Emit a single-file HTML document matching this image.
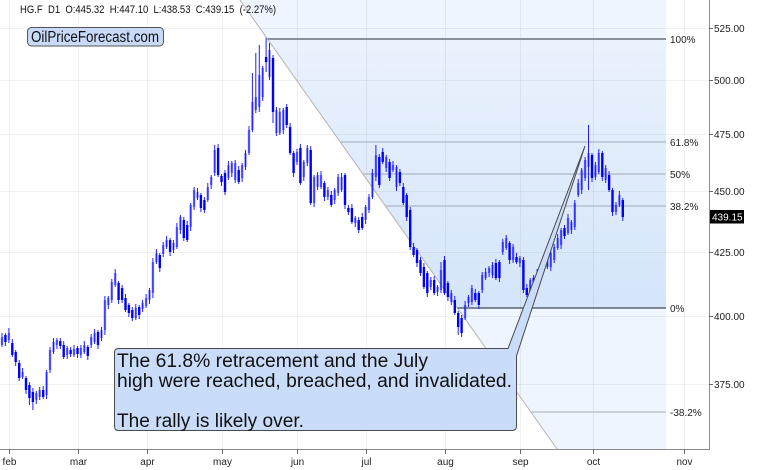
<!DOCTYPE html>
<html><head><meta charset="utf-8"><style>
html,body{margin:0;padding:0;background:#fff;}
svg{display:block;font-family:"Liberation Sans",Arial,sans-serif;}
</style></head><body>
<svg width="768" height="470" viewBox="0 0 768 470" xmlns="http://www.w3.org/2000/svg">
<defs>
<linearGradient id="gz" x1="0" y1="39" x2="0" y2="308" gradientUnits="userSpaceOnUse">
<stop offset="0" stop-color="#eaf2fd"/><stop offset="1" stop-color="#d5e5fa"/>
</linearGradient>
</defs>
<rect width="768" height="470" fill="#fff"/>
<!-- fib shaded zones -->
<polygon points="240,0 666,0 666,39 267.5,39" fill="#eef5fe"/>
<polygon points="267.5,39 666,39 666,308 457.4,308" fill="url(#gz)"/>
<polygon points="457.4,308 666,308 666,449 557,449" fill="#eff5fe"/>
<!-- grid -->
<g stroke="rgba(0,0,0,0.055)" stroke-width="1">
<path d="M0 28.5H709M0 80.5H709M0 134.5H709M0 191.5H709M0 252.5H709M0 316.5H709M0 384.5H709"/>
<path d="M9.5 0V449M78.5 0V449M147.5 0V449M222.5 0V449M297.5 0V449M366.5 0V449M445.5 0V449M520.5 0V449M593.5 0V449M684.5 0V449"/>
</g>
<!-- diagonal -->
<line x1="240" y1="0" x2="557" y2="449" stroke="#b4b4b4" stroke-width="1"/>
<!-- fib lines -->
<line x1="267.5" y1="39" x2="666" y2="39" stroke="#8a9098" stroke-width="2"/>
<line x1="340.3" y1="142" x2="666" y2="142" stroke="#b4bfcc" stroke-width="1.5"/>
<line x1="362.8" y1="174" x2="666" y2="174" stroke="#b4bfcc" stroke-width="1.5"/>
<line x1="385.4" y1="206" x2="666" y2="206" stroke="#b4bfcc" stroke-width="1.5"/>
<line x1="457.4" y1="308" x2="666" y2="308" stroke="#5c6470" stroke-width="1.5"/>
<line x1="530.9" y1="412" x2="666" y2="412" stroke="#bcc4cc" stroke-width="1.5"/>
<g font-size="10" fill="#222">
<text x="670" y="43">100%</text>
<text x="670" y="146">61.8%</text>
<text x="670" y="178">50%</text>
<text x="670" y="210">38.2%</text>
<text x="670" y="312">0%</text>
<text x="670" y="416">-38.2%</text>
</g>
<!-- candles -->
<path fill="none" stroke="#2020ff" stroke-width="1" d="M2 333V347M5.4 333V346M8.9 328V343M12.3 339V357M15.7 350V366M19.2 360V381M22.6 368V379M26 376V394M29.4 382V405M32.9 388V410M36.3 391V404M39.7 387V400M43.2 386V399M46.6 370V399M50 347V373M53.5 338V354M56.9 338V349M60.3 338V349M63.7 341V359M67.2 346V359M70.6 347V357M74 345V357M77.5 346V358M80.9 345V358M84.3 341V354M87.8 345V360M91.2 334V348M94.6 329V344M98 330V349M101.5 327V341M104.9 296V335M108.3 296V309M111.8 279V303M115.2 269V287M118.6 281V304M122.1 285V303M125.5 294V312M128.9 303V317M132.3 307V321M135.8 304V320M139.2 305V319M142.6 300V312M146.1 294V308M149.5 288V304M152.9 258V298M156.4 249V264M159.8 253V272M163.2 242V257M166.6 236V249M170.1 238V256M173.5 240V253M176.9 223V249M180.4 215V234M183.8 217V241M187.2 221V242M190.7 203V231M194.1 187V210M197.5 188V200M200.9 193V212M204.4 197V213M207.8 183V202M211.2 175V189M214.7 145V176M218.1 144V177M221.5 174V186M225 170V195M228.4 161V180M231.8 161V177M235.2 160V183M238.7 166V184M242.1 163V182M245.5 150V170M249 126V155M252.4 73V132M255.8 53V113M259.3 45V112M262.7 66V101M266.1 38V72M269.5 43V80M273 55V123M276.4 107V136M279.8 108V135M283.3 108V134M286.7 104V128M290.1 123V155M293.6 151V177M297 149V165M300.4 144V185M303.8 160V181M307.3 145V166M310.7 146V205M314.1 175V207M317.6 172V190M321 171V189M324.4 181V201M327.9 187V200M331.3 191V207M334.7 188V204M338.1 174V196M341.6 173V192M345 173V209M348.4 205V215M351.9 204V224M355.3 216V227M358.7 217V233M362.2 213V230M365.6 205V224M369 194V213M372.4 169V199M375.9 145V181M379.3 154V188M382.7 148V164M386.2 155V172M389.6 159V181M393 161V172M396.5 165V191M399.9 169V186M403.3 183V205M406.7 193V221M410.2 207V250M413.6 243V257M417 248V267M420.5 257V276M423.9 263V289M427.3 271V297M430.8 277V290M434.2 276V295M437.6 285V296M441 262V293M444.5 256V295M447.9 281V301M451.3 290V305M454.8 296V315M458.2 311V335M461.6 315V337M465.1 301V320M468.5 295V307M471.9 285V305M475.3 289V302M478.8 291V309M482.2 272V293M485.6 268V280M489.1 266V277M492.5 262V278M495.9 259V280M499.4 260V282M502.8 239V255M506.2 235V250M509.6 241V264M513.1 244V263M516.5 253V264M519.9 256V267M523.4 257V293M526.8 284V297M530.2 278V297M533.7 275V296M537.1 269V290M540.5 265V282M543.9 257V270M547.4 251V269M550.8 251V271M554.2 244V263M557.7 234V250M561.1 228V249M564.5 225V239M568 214V235M571.4 220V234M574.8 200V230M578.2 179V197M581.7 168V194M585.1 157V181M588.5 125V190M592 153V182M595.4 162V180M598.8 149V174M602.3 151V181M605.7 165V183M609.1 171V192M612.5 188V216M616 202V215M619.4 191V207M622.8 198V221"/>
<path fill="none" stroke="rgba(20,20,255,0.52)" stroke-width="2.4" d="M2 337V345M8.9 333V340M22.6 372V377M36.3 393V400M39.7 390V397M46.6 372V395M50 350V370M53.5 342V352M56.9 340V345M67.2 348V355M74 349V355M80.9 348V355M84.3 345V352M91.2 337V345M94.6 333V342M101.5 330V338M104.9 300V330M108.3 298V305M111.8 282V300M115.2 273V285M135.8 308V318M142.6 303V309M146.1 298V306M149.5 290V300M152.9 262V293M156.4 253V262M163.2 245V254M166.6 240V247M173.5 243V250M176.9 227V247M180.4 217V230M190.7 205V227M194.1 190V207M197.5 192V198M207.8 187V200M211.2 177V185M214.7 150V173M228.4 165V178M231.8 163V173M235.2 163V180M242.1 165V178M245.5 153V167M249 130V153M252.4 102V130M255.8 97V110M259.3 75V107M262.7 68V97M269.5 50V77M276.4 110V133M279.8 112V133M283.3 110V130M297 152V162M303.8 162V177M307.3 148V163M314.1 177V203M317.6 175V187M321 175V187M327.9 190V197M334.7 190V200M338.1 177V193M341.6 177V190M355.3 218V223M365.6 207V220M369 197V210M372.4 173V197M375.9 155V177M386.2 157V168M393 165V170M396.5 167V187M430.8 280V287M437.6 287V292M441 270V290M451.3 293V302M465.1 305V318M468.5 297V303M471.9 288V302M482.2 275V290M485.6 272V278M489.1 268V273M492.5 265V275M502.8 242V252M506.2 238V248M513.1 247V260M519.9 258V263M530.2 280V293M537.1 273V288M540.5 267V278M543.9 260V267M547.4 255V267M550.8 253V267M554.2 247V260M557.7 238V248M561.1 230V245M568 218V233M571.4 222V230M574.8 203V227M578.2 183V195M581.7 170V190M585.1 160V178M588.5 153V167M595.4 165V177M598.8 153V172M605.7 168V180M616 205V212M619.4 195V205"/>
<path fill="none" stroke="#0000f2" stroke-width="2.4" d="M5.4 335V342M12.3 343V355M15.7 352V362M19.2 363V378M26 378V390M29.4 385V398M32.9 392V402M43.2 390V397M60.3 341V346M63.7 345V357M70.6 350V354M77.5 348V354M87.8 347V356M98 332V345M118.6 283V300M122.1 288V300M125.5 298V310M128.9 305V313M132.3 310V318M139.2 307V315M159.8 255V268M170.1 240V252M183.8 220V238M187.2 225V240M200.9 195V208M204.4 200V210M218.1 148V175M221.5 176V182M225 173V192M238.7 170V182M266.1 57V62M273 58V112M286.7 107V125M290.1 127V153M293.6 153V173M300.4 148V183M310.7 150V203M324.4 183V197M331.3 195V205M345 175V205M348.4 208V212M351.9 208V222M358.7 220V230M362.2 217V228M379.3 157V185M382.7 152V162M389.6 162V178M399.9 172V183M403.3 187V203M406.7 195V217M410.2 210V247M413.6 247V255M417 250V263M420.5 260V273M423.9 267V287M427.3 273V293M434.2 280V293M444.5 260V293M447.9 283V297M454.8 300V313M458.2 313V327M461.6 318V333M475.3 293V300M478.8 293V305M495.9 263V278M499.4 262V278M509.6 243V260M516.5 257V262M523.4 260V290M526.8 288V295M533.7 278V293M564.5 228V236M592 155V178M602.3 153V177M609.1 175V190M612.5 190V212M622.8 200V217"/>
<!-- axes -->
<line x1="709.5" y1="0" x2="709.5" y2="449.5" stroke="#8c8c8c" stroke-width="1"/>
<line x1="0" y1="449.5" x2="710" y2="449.5" stroke="#8c8c8c" stroke-width="1"/>
<path stroke="#666" stroke-width="1" d="M709 28.5H713M709 80.5H713M709 134.5H713M709 191.5H713M709 252.5H713M709 316.5H713M709 384.5H713"/>
<path stroke="#666" stroke-width="1" d="M9.5 449V454M78.5 449V454M147.5 449V454M222.5 449V454M297.5 449V454M366.5 449V454M445.5 449V454M520.5 449V454M593.5 449V454M684.5 449V454"/>
<g font-size="10" fill="#222">
<text x="714" y="32">525.00</text>
<text x="714" y="84">500.00</text>
<text x="714" y="138">475.00</text>
<text x="714" y="195">450.00</text>
<text x="714" y="256">425.00</text>
<text x="714" y="320">400.00</text>
<text x="714" y="388">375.00</text>
</g>
<rect x="710" y="210" width="34" height="13.5" fill="#000"/>
<text x="712" y="220.5" font-size="10" fill="#fff">439.15</text>
<g font-size="10" fill="#222" text-anchor="middle">
<text x="9.5" y="465">feb</text>
<text x="78.5" y="465">mar</text>
<text x="147.5" y="465">apr</text>
<text x="222.5" y="465">may</text>
<text x="297.5" y="465">jun</text>
<text x="366.5" y="465">jul</text>
<text x="445.5" y="465">aug</text>
<text x="520.5" y="465">sep</text>
<text x="593.5" y="465">oct</text>
<text x="684.5" y="465">nov</text>
</g>
<!-- header -->
<text x="20" y="13" font-size="11" fill="#111" textLength="256" lengthAdjust="spacingAndGlyphs" xml:space="preserve">HG.F  D1  O:445.32  H:447.10  L:438.53  C:439.15  (-2.27%)</text>
<rect x="27.5" y="27.5" width="136" height="18.5" rx="4" fill="#c8daf8" stroke="#555" stroke-width="1"/>
<text x="31" y="42" font-size="15.5" fill="#111" textLength="128" lengthAdjust="spacingAndGlyphs">OilPriceForecast.com</text>
<!-- callout -->
<path d="M118.5 348.5H508L585 146L516.5 356V426Q516.5 430.5 512 430.5H118.5Q114.5 430.5 114.5 426V352.5Q114.5 348.5 118.5 348.5Z" fill="#c9dcf9" stroke="#4a4a4a" stroke-width="1"/>
<g font-size="19" fill="#111">
<text x="117" y="367" textLength="311" lengthAdjust="spacingAndGlyphs">The 61.8% retracement and the July</text>
<text x="117" y="387" textLength="395" lengthAdjust="spacingAndGlyphs">high were reached, breached, and invalidated.</text>
<text x="117" y="427" textLength="187" lengthAdjust="spacingAndGlyphs">The rally is likely over.</text>
</g>
</svg>
</body></html>
